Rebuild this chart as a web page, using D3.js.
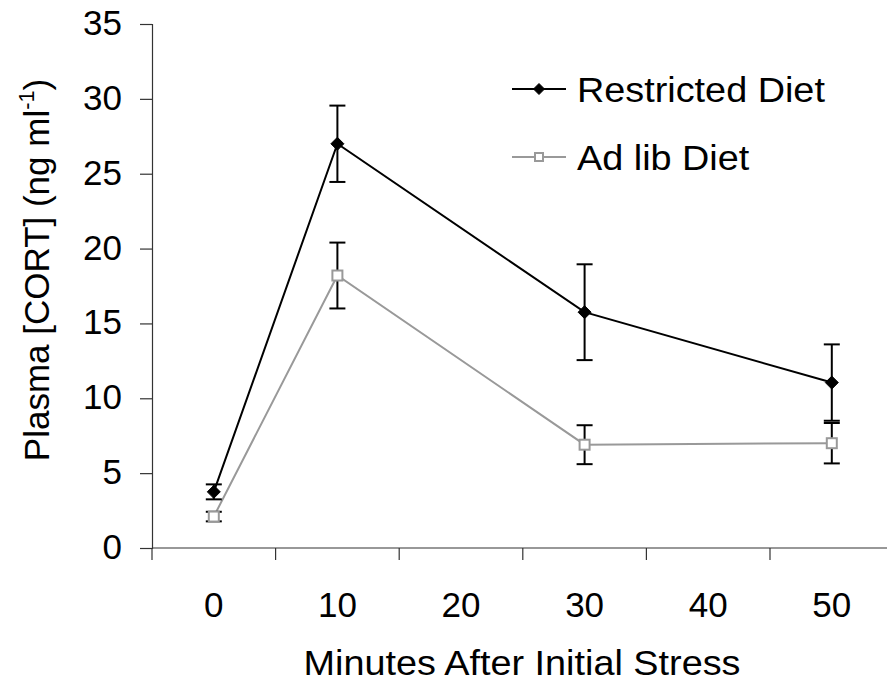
<!DOCTYPE html>
<html>
<head>
<meta charset="utf-8">
<script src="https://cdn.jsdelivr.net/npm/d3@7"></script>
<style>
  html, body { margin: 0; padding: 0; background: #fff; }
  svg { display: block; }
  text { font-family: "Liberation Sans", Arial, sans-serif; fill: #000; }
</style>
</head>
<body>
<svg id="chart" width="887" height="687"></svg>
<script>
// ---- data ----
const categories = ["0", "10", "20", "30", "40", "50"];
const timePoints = ["0", "10", "30", "50"];
const restricted = [3.75, 27.0, 15.75, 11.05];
const restrictedErr = [0.5, 2.55, 3.2, 2.55];
const adLib = [2.1, 18.2, 6.9, 7.0];
const adLibErr = [0.32, 2.2, 1.3, 1.35];
const yTicks = [0, 5, 10, 15, 20, 25, 30, 35];
const seriesNames = ["Restricted Diet", "Ad lib Diet"];
const xTitle = "Minutes After Initial Stress";

// ---- layout ----
const svg = d3.select("#chart");
const plotLeft = 152, plotTop = 24, plotBottom = 548, bandW = 123.6;
const FS = 35;
const stretch = 1.08;
function widen(sel) {
  sel.each(function () {
    const L = this.getComputedTextLength();
    d3.select(this).attr("textLength", L * stretch).attr("lengthAdjust", "spacingAndGlyphs");
  });
}

const x = d3.scaleBand().domain(categories).range([plotLeft, plotLeft + bandW * categories.length]).padding(0);
const y = d3.scaleLinear().domain([0, 35]).range([plotBottom, plotTop]);
const cx = c => x(c) + x.bandwidth() / 2;

// y axis
const yAxis = d3.axisLeft(y).tickValues(yTicks).tickSize(12).tickPadding(18).tickFormat(d3.format("d"));
const gy = svg.append("g").attr("transform", `translate(${plotLeft},0)`).call(yAxis);
gy.select(".domain").attr("stroke", "#333").attr("stroke-width", 1.2);
gy.selectAll(".tick line").attr("stroke", "#333").attr("stroke-width", 1.2);
gy.selectAll(".tick text").style("font-size", FS + "px").attr("dy", "0.3em");

// x axis: labels centered in bands, ticks at band boundaries
const gx = svg.append("g").attr("transform", `translate(0,${plotBottom})`);
gx.append("line").attr("x1", plotLeft).attr("x2", plotLeft + bandW * categories.length)
  .attr("stroke", "#333").attr("stroke-width", 1.2);
const bounds = categories.map(c => x(c)).concat([x.range()[1]]);
gx.selectAll("line.tk").data(bounds).join("line").attr("class", "tk")
  .attr("x1", d => d).attr("x2", d => d).attr("y1", 0).attr("y2", 12)
  .attr("stroke", "#333").attr("stroke-width", 1.2);
gx.selectAll("text.lbl").data(categories).join("text").attr("class", "lbl")
  .attr("x", d => cx(d)).attr("y", 69).attr("text-anchor", "middle")
  .style("font-size", FS + "px").text(d => d);

// axis titles
svg.append("text").attr("x", 522).attr("y", 675).attr("text-anchor", "middle")
  .style("font-size", FS + "px").text(xTitle).call(widen);
const yt = svg.append("text").attr("transform", "translate(49,270) rotate(-90)")
  .attr("text-anchor", "middle").style("font-size", FS + "px");
yt.append("tspan").text("Plasma [CORT] (ng ml");
yt.append("tspan").attr("dy", "-0.7em").style("font-size", (FS * 0.62) + "px").text("-1");
yt.append("tspan").attr("dy", "0.43em").text(")");

// ---- series ----
const series = [
  { name: seriesNames[0], vals: restricted, err: restrictedErr, color: "#000", marker: "diamond" },
  { name: seriesNames[1], vals: adLib, err: adLibErr, color: "#999", marker: "square" }
];
const line = d3.line().x(d => cx(d.t)).y(d => y(d.v));

series.forEach(s => {
  const pts = timePoints.map((t, i) => ({ t, v: s.vals[i], e: s.err[i] }));
  svg.append("path").datum(pts).attr("d", line).attr("fill", "none")
    .attr("stroke", s.color).attr("stroke-width", 2);
  s.pts = pts;
});

// error bars
series.forEach(s => {
  const g = svg.append("g").attr("stroke", "#000").attr("stroke-width", 2);
  s.pts.forEach(p => {
    const X = cx(p.t);
    g.append("line").attr("x1", X).attr("x2", X).attr("y1", y(p.v - p.e)).attr("y2", y(p.v + p.e));
    [p.v - p.e, p.v + p.e].forEach(v => {
      g.append("line").attr("x1", X - 8).attr("x2", X + 8).attr("y1", y(v)).attr("y2", y(v));
    });
  });
});

function drawMarker(g, type, X, Y, size) {
  if (type === "diamond") {
    const h = size / 2;
    g.append("path").attr("d", `M${X},${Y - h}L${X + h},${Y}L${X},${Y + h}L${X - h},${Y}Z`)
      .attr("fill", "#000").attr("stroke", "#000").attr("stroke-width", 1);
  } else {
    g.append("rect").attr("x", X - size / 2).attr("y", Y - size / 2).attr("width", size).attr("height", size)
      .attr("fill", "#fff").attr("stroke", "#999").attr("stroke-width", 2);
  }
}

series.forEach(s => {
  const g = svg.append("g");
  s.pts.forEach(p => drawMarker(g, s.marker, cx(p.t), y(p.v), s.marker === "diamond" ? 13 : 10));
});

// legend
const legY = [89, 157];
series.forEach((s, i) => {
  const g = svg.append("g");
  g.append("line").attr("x1", 512).attr("x2", 566).attr("y1", legY[i]).attr("y2", legY[i])
    .attr("stroke", s.color).attr("stroke-width", 2);
  drawMarker(g, s.marker, 539, legY[i], s.marker === "diamond" ? 11 : 8);
  g.append("text").attr("x", 577).attr("y", legY[i]).attr("dy", "0.36em")
    .style("font-size", FS + "px").text(s.name).call(widen);
});
</script>
</body>
</html>
